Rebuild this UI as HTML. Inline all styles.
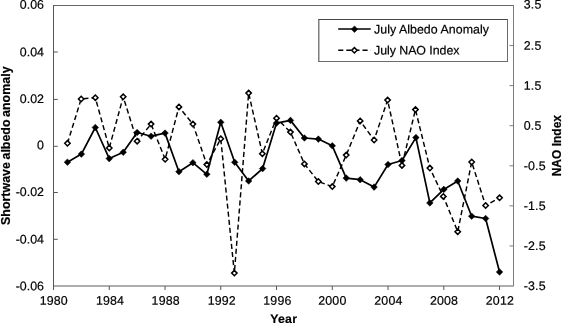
<!DOCTYPE html>
<html><head><meta charset="utf-8"><title>July Albedo Anomaly vs NAO Index</title>
<style>html,body{margin:0;padding:0;background:#fff;overflow:hidden}svg{display:block}text{font-family:"Liberation Sans",sans-serif;font-size:12px;fill:#000;stroke:#000;stroke-width:0.2px}.n{font-size:12.4px}.x{letter-spacing:0.15px}.r{letter-spacing:0.15px}.l1{letter-spacing:0.03px}.l2{letter-spacing:-0.05px}.t3{letter-spacing:0.25px}.b{font-weight:bold;font-size:12.3px}.t2{font-size:12px}.t1{font-size:12.45px;word-spacing:-0.9px}</style></head><body>
<svg width="562" height="323" viewBox="0 0 562 323">
<rect width="562" height="323" fill="#fff"/>
<g stroke="#555" stroke-width="1" fill="none">
<path d="M53.5 290.0V5.0"/>
<path stroke="#686868" d="M54.0 5.5H514.0"/>
<path stroke="#7c7c7c" d="M513.5 6.0V286.5"/>
<path stroke="#5c5c5c" d="M54.0 286.0H513.0"/>
<path d="M53.5 52.00h4.3M53.5 99.40h4.3M53.5 146.30h4.3M53.5 192.50h4.3M53.5 239.30h4.3M109.26 286.0v4M165.02 286.0v4M220.77 286.0v4M276.53 286.0v4M332.29 286.0v4M388.05 286.0v4M443.80 286.0v4M499.56 286.0v4"/>
<path stroke="#7c7c7c" d="M513.5 45.57h-4M513.5 85.64h-4M513.5 125.71h-4M513.5 165.79h-4M513.5 205.86h-4M513.5 245.93h-4"/>
</g>
<text class="n" text-anchor="end" transform="translate(43.95 8.70) rotate(0.03)">0.06</text>
<text class="n" text-anchor="end" transform="translate(43.95 56.30) rotate(0.03)">0.04</text>
<text class="n" text-anchor="end" transform="translate(43.95 102.90) rotate(0.03)">0.02</text>
<text class="n" text-anchor="end" transform="translate(43.95 149.30) rotate(0.03)">0</text>
<text class="n" text-anchor="end" transform="translate(43.95 196.10) rotate(0.03)">-0.02</text>
<text class="n" text-anchor="end" transform="translate(43.95 243.50) rotate(0.03)">-0.04</text>
<text class="n" text-anchor="end" transform="translate(43.95 290.30) rotate(0.03)">-0.06</text>
<text class="n r" transform="translate(523.75 8.60) rotate(0.03)">3.5</text>
<text class="n r" transform="translate(523.75 49.67) rotate(0.03)">2.5</text>
<text class="n r" transform="translate(523.75 89.74) rotate(0.03)">1.5</text>
<text class="n r" transform="translate(523.75 129.81) rotate(0.03)">0.5</text>
<text class="n r" transform="translate(523.75 169.89) rotate(0.03)">-0.5</text>
<text class="n r" transform="translate(523.75 209.96) rotate(0.03)">-1.5</text>
<text class="n r" transform="translate(523.75 250.03) rotate(0.03)">-2.5</text>
<text class="n r" transform="translate(523.75 290.10) rotate(0.03)">-3.5</text>
<text class="n x" text-anchor="middle" transform="translate(53.75 304.80) rotate(0.03)">1980</text>
<text class="n x" text-anchor="middle" transform="translate(110.00 304.80) rotate(0.03)">1984</text>
<text class="n x" text-anchor="middle" transform="translate(165.70 304.80) rotate(0.03)">1988</text>
<text class="n x" text-anchor="middle" transform="translate(221.75 304.80) rotate(0.03)">1992</text>
<text class="n x" text-anchor="middle" transform="translate(277.40 304.80) rotate(0.03)">1996</text>
<text class="n x" text-anchor="middle" transform="translate(332.35 304.80) rotate(0.03)">2000</text>
<text class="n x" text-anchor="middle" transform="translate(388.40 304.80) rotate(0.03)">2004</text>
<text class="n x" text-anchor="middle" transform="translate(444.00 304.80) rotate(0.03)">2008</text>
<text class="n x" text-anchor="middle" transform="translate(499.90 304.80) rotate(0.03)">2012</text>
<text class="b t1" transform="translate(9.7 145.7) rotate(-90)" text-anchor="middle">Shortwave albedo anomaly</text>
<text class="b t2" transform="translate(560.9 145.65) rotate(-90)" text-anchor="middle">NAO Index</text>
<text class="b t3" text-anchor="middle" transform="translate(283.75 323.00) rotate(0.03)">Year</text>
<path d="M67.44 143.30L81.15 99.00L95.32 97.70L109.26 148.00L123.20 96.80L137.14 141.20L151.08 124.10L165.15 159.30L178.95 106.90L192.89 124.10L206.83 164.60L220.77 138.80L234.35 273.10L248.65 93.10L262.35 153.70L276.53 118.20L290.47 132.10L304.41 163.90L318.35 181.50L332.29 186.60L346.23 155.10L360.17 120.90L374.11 140.00L387.60 100.10L401.98 165.40L415.45 109.60L429.86 168.10L443.30 196.40L457.74 231.70L471.68 162.00L485.62 205.50L499.56 197.80" fill="none" stroke="#000" stroke-width="1.45" stroke-dasharray="5.1 3"/>
<path d="M67.44 140.60L70.14 143.30L67.44 146.00L64.74 143.30ZM81.15 96.30L83.85 99.00L81.15 101.70L78.45 99.00ZM95.32 95.00L98.02 97.70L95.32 100.40L92.62 97.70ZM109.26 145.30L111.96 148.00L109.26 150.70L106.56 148.00ZM123.20 94.10L125.90 96.80L123.20 99.50L120.50 96.80ZM137.14 138.50L139.84 141.20L137.14 143.90L134.44 141.20ZM151.08 121.40L153.78 124.10L151.08 126.80L148.38 124.10ZM165.15 156.60L167.85 159.30L165.15 162.00L162.45 159.30ZM178.95 104.20L181.65 106.90L178.95 109.60L176.25 106.90ZM192.89 121.40L195.59 124.10L192.89 126.80L190.19 124.10ZM206.83 161.90L209.53 164.60L206.83 167.30L204.13 164.60ZM220.77 136.10L223.47 138.80L220.77 141.50L218.07 138.80ZM234.35 270.40L237.05 273.10L234.35 275.80L231.65 273.10ZM248.65 90.40L251.35 93.10L248.65 95.80L245.95 93.10ZM262.35 151.00L265.05 153.70L262.35 156.40L259.65 153.70ZM276.53 115.50L279.23 118.20L276.53 120.90L273.83 118.20ZM290.47 129.40L293.17 132.10L290.47 134.80L287.77 132.10ZM304.41 161.20L307.11 163.90L304.41 166.60L301.71 163.90ZM318.35 178.80L321.05 181.50L318.35 184.20L315.65 181.50ZM332.29 183.90L334.99 186.60L332.29 189.30L329.59 186.60ZM346.23 152.40L348.93 155.10L346.23 157.80L343.53 155.10ZM360.17 118.20L362.87 120.90L360.17 123.60L357.47 120.90ZM374.11 137.30L376.81 140.00L374.11 142.70L371.41 140.00ZM387.60 97.40L390.30 100.10L387.60 102.80L384.90 100.10ZM401.98 162.70L404.68 165.40L401.98 168.10L399.28 165.40ZM415.45 106.90L418.15 109.60L415.45 112.30L412.75 109.60ZM429.86 165.40L432.56 168.10L429.86 170.80L427.16 168.10ZM443.30 193.70L446.00 196.40L443.30 199.10L440.60 196.40ZM457.74 229.00L460.44 231.70L457.74 234.40L455.04 231.70ZM471.68 159.30L474.38 162.00L471.68 164.70L468.98 162.00ZM485.62 202.80L488.32 205.50L485.62 208.20L482.92 205.50ZM499.56 195.10L502.26 197.80L499.56 200.50L496.86 197.80Z" fill="#fff" stroke="#000" stroke-width="1.5"/>
<path d="M67.44 162.20L81.38 154.10L95.32 127.50L109.26 158.60L123.20 152.30L137.14 132.50L151.08 136.20L165.02 133.10L178.95 171.70L192.89 162.70L206.83 174.30L220.77 122.30L234.71 162.30L248.65 181.00L262.59 168.60L276.53 123.10L290.47 120.40L304.41 138.00L318.35 139.10L332.29 145.80L346.23 178.10L360.17 179.70L374.11 187.10L388.05 164.50L401.98 160.50L415.92 137.60L429.86 202.90L443.80 189.40L457.74 181.00L471.68 216.20L485.62 218.50L499.56 272.00" fill="none" stroke="#000" stroke-width="1.7" stroke-linejoin="round"/>
<path d="M67.44 158.90L70.74 162.20L67.44 165.50L64.14 162.20ZM81.38 150.80L84.68 154.10L81.38 157.40L78.08 154.10ZM95.32 124.20L98.62 127.50L95.32 130.80L92.02 127.50ZM109.26 155.30L112.56 158.60L109.26 161.90L105.96 158.60ZM123.20 149.00L126.50 152.30L123.20 155.60L119.90 152.30ZM137.14 129.20L140.44 132.50L137.14 135.80L133.84 132.50ZM151.08 132.90L154.38 136.20L151.08 139.50L147.78 136.20ZM165.02 129.80L168.32 133.10L165.02 136.40L161.72 133.10ZM178.95 168.40L182.25 171.70L178.95 175.00L175.65 171.70ZM192.89 159.40L196.19 162.70L192.89 166.00L189.59 162.70ZM206.83 171.00L210.13 174.30L206.83 177.60L203.53 174.30ZM220.77 119.00L224.07 122.30L220.77 125.60L217.47 122.30ZM234.71 159.00L238.01 162.30L234.71 165.60L231.41 162.30ZM248.65 177.70L251.95 181.00L248.65 184.30L245.35 181.00ZM262.59 165.30L265.89 168.60L262.59 171.90L259.29 168.60ZM276.53 119.80L279.83 123.10L276.53 126.40L273.23 123.10ZM290.47 117.10L293.77 120.40L290.47 123.70L287.17 120.40ZM304.41 134.70L307.71 138.00L304.41 141.30L301.11 138.00ZM318.35 135.80L321.65 139.10L318.35 142.40L315.05 139.10ZM332.29 142.50L335.59 145.80L332.29 149.10L328.99 145.80ZM346.23 174.80L349.53 178.10L346.23 181.40L342.93 178.10ZM360.17 176.40L363.47 179.70L360.17 183.00L356.87 179.70ZM374.11 183.80L377.41 187.10L374.11 190.40L370.81 187.10ZM388.05 161.20L391.35 164.50L388.05 167.80L384.75 164.50ZM401.98 157.20L405.28 160.50L401.98 163.80L398.68 160.50ZM415.92 134.30L419.22 137.60L415.92 140.90L412.62 137.60ZM429.86 199.60L433.16 202.90L429.86 206.20L426.56 202.90ZM443.80 186.10L447.10 189.40L443.80 192.70L440.50 189.40ZM457.74 177.70L461.04 181.00L457.74 184.30L454.44 181.00ZM471.68 212.90L474.98 216.20L471.68 219.50L468.38 216.20ZM485.62 215.20L488.92 218.50L485.62 221.80L482.32 218.50ZM499.56 268.70L502.86 272.00L499.56 275.30L496.26 272.00Z" fill="#000" stroke="#000" stroke-width="0.5"/>
<rect x="318.5" y="19.5" width="189" height="42" fill="#fff"/>
<path d="M318.3 19.5H508" stroke="#484848" fill="none"/>
<path d="M318.85 19.5V62" stroke="#3c3c3c" fill="none"/>
<path d="M507.5 19.5V62" stroke="#6c6c6c" fill="none"/>
<path d="M318.3 61.5H508" stroke="#6c6c6c" fill="none"/>
<path d="M338.2 29H370.7" stroke="#000" stroke-width="1.7"/>
<path d="M354.50 25.90L357.80 29.20L354.50 32.50L351.20 29.20Z" fill="#000" stroke="#000" stroke-width="0.5"/>
<path d="M338.2 50.2H370.7" stroke="#000" stroke-width="1.45" stroke-dasharray="5.1 3"/>
<path d="M354.40 47.60L357.10 50.30L354.40 53.00L351.70 50.30Z" fill="#fff" stroke="#000" stroke-width="1.5"/>
<text class="n l1" transform="translate(374.00 33.40) rotate(0.03)">July Albedo Anomaly</text>
<text class="n l2" transform="translate(374.00 54.40) rotate(0.03)">July NAO Index</text>
</svg></body></html>
